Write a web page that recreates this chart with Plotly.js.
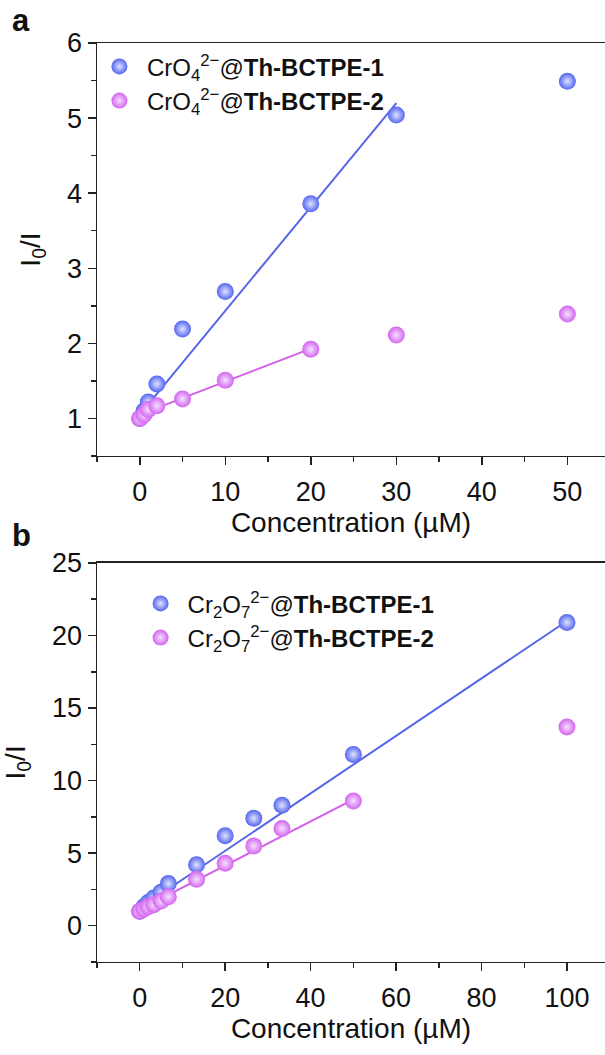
<!DOCTYPE html>
<html>
<head>
<meta charset="utf-8">
<script src="https://cdn.plot.ly/plotly-3.0.1.min.js"></script>
<style>
html,body{margin:0;padding:0;background:#fff;}
#chart{width:605px;height:1055px;}
</style>
</head>
<body>
<div id="chart"></div>
<script>
// ---- Panel a: CrO4 2- ----
const concA = [0, 0.5, 1, 2, 5, 10, 20, 30, 50];
const a1Vals = [1.0, 1.1, 1.22, 1.46, 2.19, 2.69, 3.86, 5.04, 5.49];
const a2Vals = [1.0, 1.05, 1.12, 1.17, 1.26, 1.51, 1.92, 2.11, 2.39];
const fitA1X = [0, 30];
const fitA1Y = [1.05, 5.2];
const fitA2X = [0, 20];
const fitA2Y = [1.05, 1.93];

// ---- Panel b: Cr2O7 2- ----
const concB = [0, 1, 2, 3.3, 5, 6.7, 13.3, 20, 26.7, 33.3, 50, 100];
const b1Vals = [1.0, 1.3, 1.6, 1.9, 2.3, 2.9, 4.2, 6.2, 7.4, 8.3, 11.8, 20.9];
const b2Vals = [1.0, 1.15, 1.3, 1.45, 1.7, 2.0, 3.2, 4.3, 5.5, 6.7, 8.6, 13.7];
const fitB1X = [0, 100];
const fitB1Y = [1.2, 21.0];
const fitB2X = [0, 50];
const fitB2Y = [1.1, 8.7];

const namesA = ['CrO<sub>4</sub><sup>2\u2212</sup>@<b>Th-BCTPE-1</b>', 'CrO<sub>4</sub><sup>2\u2212</sup>@<b>Th-BCTPE-2</b>'];
const namesB = ['Cr<sub>2</sub>O<sub>7</sub><sup>2\u2212</sup>@<b>Th-BCTPE-1</b>', 'Cr<sub>2</sub>O<sub>7</sub><sup>2\u2212</sup>@<b>Th-BCTPE-2</b>'];

const blue = '#5565f0', blueLine = '#5466e6';
const pink = '#d465f0', pinkLine = '#d35fe9';
const FONT = 'Liberation Sans, Arial, sans-serif';

function marker(c, hi){
  return {size:17, color:c, line:{width:0}, gradient:{type:'radial', color:hi}};
}

const traces = [
  {x:fitA1X, y:fitA1Y, mode:'lines', line:{color:blueLine, width:2}, xaxis:'x', yaxis:'y', showlegend:false, hoverinfo:'skip'},
  {x:fitA2X, y:fitA2Y, mode:'lines', line:{color:pinkLine, width:2}, xaxis:'x', yaxis:'y', showlegend:false, hoverinfo:'skip'},
  {x:concA, y:a1Vals, mode:'markers', name:namesA[0], marker:marker(blue, '#dfe4ff'), xaxis:'x', yaxis:'y', legend:'legend'},
  {x:concA, y:a2Vals, mode:'markers', name:namesA[1], marker:marker(pink, '#f5e0ff'), xaxis:'x', yaxis:'y', legend:'legend'},
  {x:fitB1X, y:fitB1Y, mode:'lines', line:{color:blueLine, width:2}, xaxis:'x2', yaxis:'y2', showlegend:false, hoverinfo:'skip'},
  {x:fitB2X, y:fitB2Y, mode:'lines', line:{color:pinkLine, width:2}, xaxis:'x2', yaxis:'y2', showlegend:false, hoverinfo:'skip'},
  {x:concB, y:b1Vals, mode:'markers', name:namesB[0], marker:marker(blue, '#dfe4ff'), xaxis:'x2', yaxis:'y2', legend:'legend2'},
  {x:concB, y:b2Vals, mode:'markers', name:namesB[1], marker:marker(pink, '#f5e0ff'), xaxis:'x2', yaxis:'y2', legend:'legend2'}
];

const axisCommon = {
  showline:true, linecolor:'#222', linewidth:1.5, ticks:'outside', ticklen:8, tickwidth:1.5, tickcolor:'#222',
  showgrid:false, zeroline:false, tickfont:{family:FONT, size:27, color:'#111'}
};
const minorCommon = {ticklen:5, tickwidth:1.5, tickcolor:'#222', ticks:'outside'};

const layout = {
  width:605, height:1055,
  margin:{l:97, r:0, t:0, b:0},
  paper_bgcolor:'#fff', plot_bgcolor:'#fff',
  font:{family:FONT, color:'#111'},
  xaxis: Object.assign({}, axisCommon, {
    domain:[0,1], anchor:'y', range:[-5, 54.4], dtick:10, tick0:0, mirror:true, ticklabelstandoff:3,
    minor:Object.assign({dtick:5, tick0:0}, minorCommon),
    title:{text:'Concentration (\u00b5M)', font:{family:FONT, size:28, color:'#111'}, standoff:2}
  }),
  yaxis: Object.assign({}, axisCommon, {
    domain:[0.5678, 0.9592], anchor:'x', range:[0.5, 6], dtick:1, tick0:0,
    minor:Object.assign({dtick:0.5, tick0:0}, minorCommon),
    title:{text:'I<sub>0</sub>/I', font:{family:FONT, size:28, color:'#111'}, standoff:18}
  }),
  xaxis2: Object.assign({}, axisCommon, {
    domain:[0,1], anchor:'y2', range:[-10, 108.9], dtick:20, tick0:0, mirror:true, ticklabelstandoff:3,
    minor:Object.assign({dtick:10, tick0:0}, minorCommon),
    title:{text:'Concentration (\u00b5M)', font:{family:FONT, size:28, color:'#111'}, standoff:2}
  }),
  yaxis2: Object.assign({}, axisCommon, {
    domain:[0.0882, 0.4664], anchor:'x2', range:[-2.5, 25], dtick:5, tick0:0,
    minor:Object.assign({dtick:2.5, tick0:0}, minorCommon),
    title:{text:'I<sub>0</sub>/I', font:{family:FONT, size:28, color:'#111'}, standoff:18}
  }),
  legend:{x:-0.01, y:0.958, xanchor:'left', yanchor:'top', bgcolor:'rgba(0,0,0,0)', borderwidth:0,
    font:{family:FONT, size:24, color:'#111'}, itemwidth:45, tracegroupgap:0},
  legend2:{x:0.072, y:0.449, xanchor:'left', yanchor:'top', bgcolor:'rgba(0,0,0,0)', borderwidth:0,
    font:{family:FONT, size:24, color:'#111'}, itemwidth:44, tracegroupgap:0},
  annotations:[
    {text:'<b>a</b>', xref:'paper', yref:'paper', x:-0.172, y:0.981, xanchor:'left', yanchor:'middle', showarrow:false, font:{family:FONT, size:31, color:'#111'}},
    {text:'<b>b</b>', xref:'paper', yref:'paper', x:-0.172, y:0.492, xanchor:'left', yanchor:'middle', showarrow:false, font:{family:FONT, size:31, color:'#111'}}
  ],
  showlegend:true
};

Plotly.newPlot('chart', traces, layout, {displayModeBar:false, staticPlot:true});
</script>
</body>
</html>
